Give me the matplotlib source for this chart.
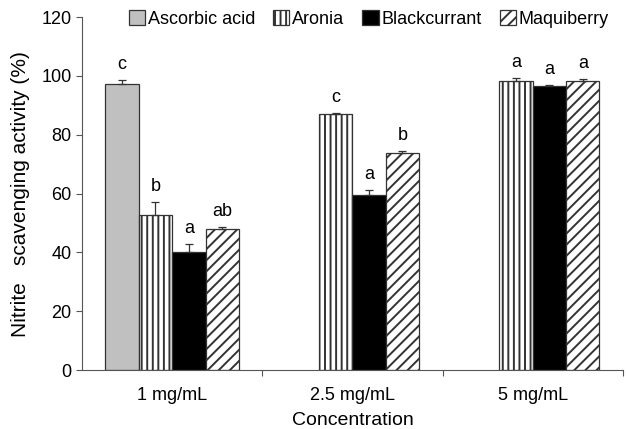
import numpy as np
import matplotlib.pyplot as plt

plt.rcParams['font.family'] = ['Liberation Sans', 'DejaVu Sans']
plt.rcParams['font.size'] = 13
plt.rcParams['hatch.linewidth'] = 1.4

# ----- data -----
concentrations = ["1 mg/mL", "2.5 mg/mL", "5 mg/mL"]
samples = ["Ascorbic acid", "Aronia", "Blackcurrant", "Maquiberry"]

ascorbic = [97.3, np.nan, np.nan]
aronia = [52.7, 87.1, 98.3]
blackcurrant = [40.1, 59.5, 96.6]
maquiberry = [48.0, 73.8, 98.3]

ascorbic_err = [1.3, 0, 0]
aronia_err = [4.4, 0.3, 1.0]
blackcurrant_err = [2.7, 1.7, 0.3]
maquiberry_err = [0.5, 0.7, 0.5]

ascorbic_lbl = ["c", "", ""]
aronia_lbl = ["b", "c", "a"]
blackcurrant_lbl = ["a", "a", "a"]
maquiberry_lbl = ["ab", "b", "a"]

values = [ascorbic, aronia, blackcurrant, maquiberry]
errors = [ascorbic_err, aronia_err, blackcurrant_err, maquiberry_err]
letters = [ascorbic_lbl, aronia_lbl, blackcurrant_lbl, maquiberry_lbl]

# ----- styles -----
faces = ["#c0c0c0", "white", "black", "white"]
hatches = [None, "|||", None, "///"]

fig = plt.figure(figsize=(6.26, 4.29), dpi=100)
ax = fig.add_axes([0.131, 0.1375, 0.864, 0.8225])

x = np.arange(len(concentrations))
w = 0.185
for i in range(4):
    pos = x + (i - 1.5) * w
    v = np.array(values[i])
    e = np.array(errors[i])
    ax.bar(pos, v, w, color=faces[i], edgecolor="#333333", linewidth=0.9,
           hatch=hatches[i], label=samples[i])
    ok = ~np.isnan(v)
    ax.errorbar(pos[ok], v[ok], yerr=[np.zeros(ok.sum()), e[ok]], fmt="none",
                ecolor="#333333", elinewidth=0.9, capsize=3, capthick=0.9)
    for j in range(len(x)):
        if letters[i][j]:
            ax.text(pos[j], v[j] + e[j] + 2.5, letters[i][j], ha="center",
                    va="bottom", fontsize=13)

ax.set_xlim(-0.5, 2.5)
ax.set_ylim(0, 120)
ax.set_yticks(range(0, 121, 20))
ax.set_xticks([0.5, 1.5, 2.5])
ax.set_xticklabels([])
ax.set_xticks(x, minor=True)
ax.set_xticklabels(concentrations, minor=True)
ax.tick_params(axis="x", which="minor", length=0, pad=12)
ax.tick_params(axis="both", which="major", direction="out", length=4,
               color="#555555")

for s in ["top", "right"]:
    ax.spines[s].set_visible(False)
for s in ["left", "bottom"]:
    ax.spines[s].set_color("#555555")

ax.set_ylabel("Nitrite   scavenging activity (%)", fontsize=15, labelpad=8)
ax.set_xlabel("Concentration", fontsize=14, labelpad=6)

ax.legend(loc="upper center", bbox_to_anchor=(0.53, 1.065), ncol=4,
          frameon=False, handlelength=0.9, handleheight=0.9,
          handletextpad=0.15, columnspacing=1.0, fontsize=13)

fig.savefig("out.png", dpi=100)
